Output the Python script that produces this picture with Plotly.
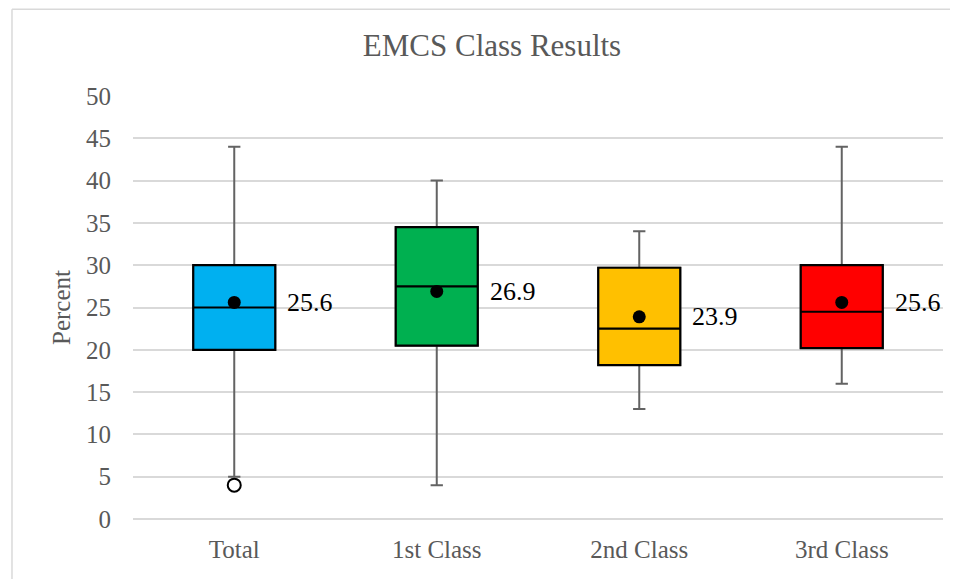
import plotly.graph_objects as go

categories = ["Total", "1st Class", "2nd Class", "3rd Class"]
q1 = [20, 20.5, 18.2, 20.2]
median = [25, 27.5, 22.5, 24.5]
q3 = [30, 34.5, 29.7, 30]
lower = [5, 4, 13, 16]
upper = [44, 40, 34, 44]
means = [25.6, 26.9, 23.9, 25.6]
mean_labels = ["25.6", "26.9", "23.9", "25.6"]
outlier_cat = ["Total"]
outlier_val = [4]
colors = ["#00B0F0", "#00B050", "#FFC000", "#FF0000"]

FONT = "Liberation Serif"
fig = go.Figure()

for i, c in enumerate(categories):
    # whiskers (gray)
    fig.add_trace(go.Box(
        x=[c], q1=[q1[i]], median=[median[i]], q3=[q3[i]],
        lowerfence=[lower[i]], upperfence=[upper[i]],
        width=0.405, whiskerwidth=0.15,
        fillcolor="rgba(0,0,0,0)", line=dict(color="#636363", width=2),
        showlegend=False, hoverinfo="skip"))
    # box body (black outline)
    fig.add_trace(go.Box(
        x=[c], q1=[q1[i]], median=[median[i]], q3=[q3[i]],
        lowerfence=[q1[i]], upperfence=[q3[i]],
        width=0.405, whiskerwidth=0,
        fillcolor=colors[i], line=dict(color="black", width=2.2),
        showlegend=False, hoverinfo="skip"))

fig.add_trace(go.Scatter(
    x=categories, y=means, mode="markers",
    marker=dict(color="black", size=13),
    showlegend=False, hoverinfo="skip"))

fig.add_trace(go.Scatter(
    x=outlier_cat, y=outlier_val, mode="markers",
    marker=dict(color="white", size=13, line=dict(color="black", width=2)),
    showlegend=False, hoverinfo="skip"))

for c, m, t in zip(categories, means, mean_labels):
    fig.add_annotation(x=c, y=m, text=t, showarrow=False,
                       xanchor="left", yanchor="middle", xshift=51,
                       font=dict(family=FONT, size=26, color="black"))

# chart border (left & top)
fig.add_shape(type="line", xref="paper", yref="paper",
              x0=-0.1494, x1=-0.1494, y0=1.205, y1=-0.2,
              line=dict(color="#d9d9d9", width=1.5))
fig.add_shape(type="line", xref="paper", yref="paper",
              x0=-0.1494, x1=1.04, y0=1.205, y1=1.205,
              line=dict(color="#d9d9d9", width=1.5))

fig.update_layout(
    width=958, height=579,
    margin=dict(l=125, r=23, t=88, b=68),
    paper_bgcolor="white", plot_bgcolor="white",
    boxmode="overlay",
    title=dict(text="EMCS Class Results", x=0.5052, xanchor="center",
               y=1 - 37 / 579, yanchor="middle",
               font=dict(family=FONT, size=31, color="#595959")),
    font=dict(family=FONT, color="#595959"),
    xaxis=dict(type="category", categoryorder="array", categoryarray=categories,
               range=[-0.5, 3.5],
               showgrid=False, showline=False, zeroline=False,
               tickfont=dict(family=FONT, size=25, color="#595959"),
               ticks="", ticklabelstandoff=13),
    yaxis=dict(range=[0, 50], dtick=5, tick0=0,
               showgrid=True, gridcolor="#d9d9d9", gridwidth=1.5,
               zeroline=True, zerolinecolor="#d9d9d9", zerolinewidth=1.5,
               showline=False, ticks="", ticklabelstandoff=21,
               tickfont=dict(family=FONT, size=25, color="#595959"),
               title=dict(text="Percent", standoff=8,
                          font=dict(family=FONT, size=25, color="#595959"))),
)

fig.write_html("out.html")
